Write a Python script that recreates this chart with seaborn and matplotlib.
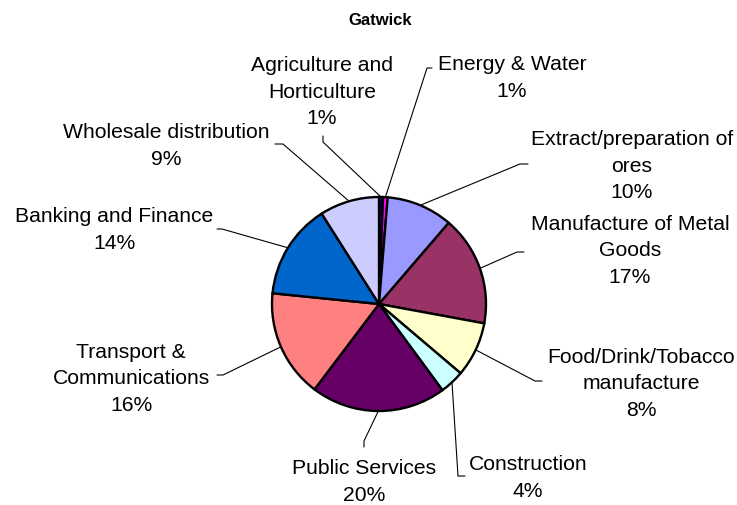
import numpy as np
import matplotlib
matplotlib.use("Agg")
import matplotlib.pyplot as plt
import seaborn as sns

# Sector shares for Gatwick (clockwise from 12 o'clock)
sectors = ["Agriculture and\nHorticulture", "Energy & Water", "Extract/preparation of\nores",
           "Manufacture of Metal\nGoods", "Food/Drink/Tobacco\nmanufacture", "Construction",
           "Public Services", "Transport &\nCommunications", "Banking and Finance",
           "Wholesale distribution"]
shares = [0.6, 0.7, 10.0, 16.6, 8.3, 3.7, 20.4, 16.3, 14.4, 9.0]
colours = ["#000080", "#FF00FF", "#9999FF", "#993366", "#FFFFCC",
           "#CCFFFF", "#660066", "#FF8080", "#0066CC", "#CCCCFF"]

# label layout in pixels: text centre, leader elbow, leader end
text_pos = [(322, 92), (512, 78), (632, 166), (630, 251), (641, 384),
            (528, 478), (364, 482), (131, 379), (114, 230), (166, 146)]
elbows = [(323, 143), (427, 69), (520, 165), (517, 253), (535, 382),
          (458, 477), (364, 442), (223, 376), (222, 230), (283, 145)]
ends = [(323, 137), (432, 69), (528, 165), (524, 253), (542, 382),
        (465, 477), (364, 448), (217, 376), (217, 230), (275, 145)]

sns.set_theme(style="white")
plt.rcParams["font.family"] = ["Liberation Sans", "DejaVu Sans"]
plt.rcParams["text.color"] = "black"

W, H = 737, 506
cx, cy, r = 379, 305, 107

fig = plt.figure(figsize=(W / 100, H / 100), dpi=100)
ax = fig.add_axes([0, 0, 1, 1])

pal = sns.color_palette(colours)
wedges, _ = ax.pie(shares, colors=pal, startangle=270, counterclock=True,
                   center=(cx, cy), radius=r,
                   wedgeprops=dict(edgecolor="black", linewidth=1.7))
ax.set_xlim(0, W)
ax.set_ylim(H, 0)
ax.set_aspect("equal")
ax.axis("off")

total = sum(shares)
for w, name, v, tp, el, en in zip(wedges, sectors, shares, text_pos, elbows, ends):
    mid = np.deg2rad((w.theta1 + w.theta2) / 2)
    sx, sy = cx + r * np.cos(mid), cy + r * np.sin(mid)
    ax.plot([sx, el[0], en[0]], [sy, el[1], en[1]], color="black", lw=0.8)
    pct = int(v / total * 100 + 0.5)
    ax.text(tp[0], tp[1], f"{name}\n{pct}%", ha="center", va="center",
            multialignment="center", fontsize=15.2, linespacing=1.5, color="black")

ax.text(380, 20, "Gatwick", ha="center", va="center", fontsize=12,
        fontweight="bold", color="black")

fig.savefig("out.png", dpi=100)
